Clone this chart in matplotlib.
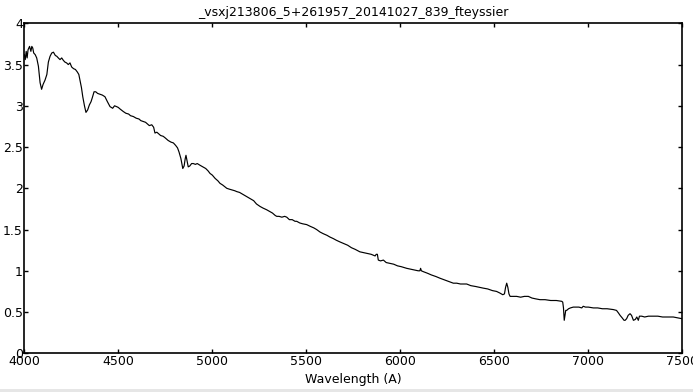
import matplotlib
matplotlib.use("Agg")
import matplotlib.pyplot as plt
from matplotlib.patches import Rectangle

title = "_vsxj213806_5+261957_20141027_839_fteyssier"
xlabel = "Wavelength (A)"
xticks = [4000, 4500, 5000, 5500, 6000, 6500, 7000, 7500]
yticks = [0, 0.5, 1, 1.5, 2, 2.5, 3, 3.5, 4]
ytick_labels = ["0", "0.5", "1", "1.5", "2", "2.5", "3", "3.5", "4"]

wavelength = [
    4000, 4005, 4010, 4015, 4020, 4028, 4035, 4040, 4045, 4050, 4058, 4066,
    4075, 4084, 4092, 4100, 4110, 4120, 4128, 4137, 4146, 4155, 4165, 4173,
    4181, 4190, 4199, 4208, 4216, 4225, 4234, 4243, 4252, 4262, 4272, 4282,
    4290, 4296, 4304, 4311, 4320, 4328, 4337, 4346, 4355, 4362, 4371, 4380,
    4390, 4403, 4415, 4429, 4442, 4456, 4470, 4480, 4491, 4500, 4510, 4527,
    4540, 4555, 4565, 4580, 4595, 4610, 4620, 4633, 4645, 4655, 4665, 4678,
    4688, 4695, 4705, 4715, 4725, 4739, 4750, 4765, 4780, 4793, 4805, 4815,
    4823, 4833, 4843, 4850, 4856, 4860, 4866, 4872, 4880, 4890, 4899, 4910,
    4920, 4934, 4950, 4965, 4978, 4988, 5000, 5015, 5030, 5041, 5055, 5066,
    5077, 5090, 5105, 5120, 5130, 5145, 5160, 5175, 5191, 5205, 5220, 5235,
    5254, 5270, 5289, 5305, 5320, 5335, 5343, 5355, 5370, 5385, 5396, 5410,
    5425, 5440, 5449, 5465, 5480, 5502, 5520, 5540, 5555, 5573, 5590, 5610,
    5625, 5644, 5660, 5679, 5700, 5720, 5740, 5760, 5785, 5805, 5825, 5845,
    5856, 5866, 5872, 5878, 5883, 5895, 5910, 5925, 5945, 5965, 5985, 6005,
    6034, 6055, 6075, 6095, 6104, 6108, 6112, 6122, 6145, 6165, 6190, 6211,
    6235, 6260, 6282, 6300, 6320, 6353, 6375, 6400, 6420, 6441, 6465, 6490,
    6512, 6530, 6545, 6554, 6560, 6566, 6572, 6578, 6584, 6600, 6619, 6640,
    6660, 6681, 6700, 6720, 6743, 6770, 6800, 6830, 6859, 6864, 6868, 6872,
    6876, 6880, 6885, 6895, 6905, 6920, 6935, 6950, 6965, 6973, 6985, 7000,
    7027, 7050, 7075, 7100, 7133, 7150, 7160, 7169, 7180, 7190, 7196, 7204,
    7212, 7222, 7230, 7240, 7250, 7258, 7266, 7272, 7284, 7300, 7320, 7346,
    7370, 7395, 7420, 7452, 7475, 7497
]

flux = [
    3.62, 3.56, 3.66, 3.58, 3.68, 3.72, 3.66, 3.72, 3.70, 3.64, 3.62, 3.58,
    3.48, 3.28, 3.20, 3.26, 3.31, 3.38, 3.53, 3.60, 3.64, 3.65, 3.61, 3.60,
    3.58, 3.56, 3.58, 3.55, 3.53, 3.52, 3.50, 3.52, 3.47, 3.45, 3.44, 3.41,
    3.38, 3.31, 3.22, 3.11, 3.00, 2.92, 2.95, 3.01, 3.05, 3.10, 3.17, 3.17,
    3.15, 3.14, 3.13, 3.11, 3.05, 2.99, 2.97, 3.00, 2.99, 2.98, 2.96, 2.93,
    2.91, 2.90, 2.88, 2.87, 2.85, 2.84, 2.82, 2.81, 2.80, 2.78, 2.76, 2.77,
    2.74, 2.67, 2.68, 2.66, 2.64, 2.63, 2.61, 2.58, 2.56, 2.55, 2.52, 2.49,
    2.44, 2.36, 2.24, 2.27, 2.36, 2.40, 2.33, 2.26, 2.27, 2.30, 2.30, 2.29,
    2.30, 2.28, 2.26, 2.24, 2.21, 2.18, 2.16, 2.12, 2.09, 2.06, 2.04, 2.02,
    2.00, 1.99, 1.98, 1.97, 1.96, 1.95, 1.93, 1.91, 1.89, 1.87, 1.85, 1.81,
    1.78, 1.76, 1.74, 1.72, 1.70, 1.67, 1.66, 1.66, 1.65, 1.66, 1.65, 1.62,
    1.62, 1.60, 1.60, 1.58, 1.57, 1.56, 1.54, 1.52, 1.50, 1.47, 1.45, 1.43,
    1.41, 1.39, 1.37, 1.35, 1.33, 1.31, 1.28, 1.26, 1.23, 1.22, 1.21, 1.20,
    1.19, 1.18, 1.20, 1.20, 1.13, 1.12, 1.13, 1.10, 1.09, 1.08, 1.06, 1.05,
    1.03, 1.02, 1.01, 1.00, 1.00, 1.03, 1.00, 0.99, 0.97, 0.95, 0.93, 0.91,
    0.89, 0.87, 0.85, 0.85, 0.84, 0.84, 0.82, 0.81, 0.80, 0.79, 0.78, 0.76,
    0.75, 0.73, 0.71, 0.72, 0.80, 0.85, 0.80, 0.72, 0.69, 0.69, 0.69, 0.68,
    0.69, 0.69, 0.67, 0.66, 0.65, 0.65, 0.64, 0.64, 0.63, 0.62, 0.55, 0.40,
    0.46, 0.52, 0.52, 0.54, 0.55, 0.56, 0.56, 0.56, 0.55, 0.57, 0.56, 0.56,
    0.55, 0.55, 0.54, 0.54, 0.53, 0.52, 0.49, 0.46, 0.43, 0.40, 0.40, 0.42,
    0.46, 0.48, 0.46, 0.40, 0.41, 0.44, 0.40, 0.45, 0.45, 0.44, 0.45, 0.45,
    0.45, 0.44, 0.44, 0.44, 0.43, 0.42
]

fig = plt.figure(figsize=(6.93, 3.92), dpi=100)
fig.patch.set_facecolor("white")
fig.patches.append(Rectangle((0, 0), 1, 3 / 392, transform=fig.transFigure,
                             facecolor="#e6e6e6", edgecolor="none", zorder=-1))

ax = fig.add_axes([24.3 / 693, 1 - 353.3 / 392, (682.3 - 24.3) / 693, (353.3 - 23.3) / 392])
ax.plot(wavelength, flux, color="black", linewidth=0.85)
ax.set_xlim(4000, 7500)
ax.set_ylim(0, 4)
ax.set_xticks(xticks)
ax.set_yticks(yticks)
ax.set_yticklabels(ytick_labels)
ax.tick_params(direction="in", length=3, width=1, top=True, right=True,
               labelsize=9, pad=1, colors="black")
for s in ax.spines.values():
    s.set_linewidth(1.2)
ax.set_title(title, fontsize=9, pad=5)
ax.set_xlabel(xlabel, fontsize=9, labelpad=4)

fig.savefig("out.png", dpi=100)
